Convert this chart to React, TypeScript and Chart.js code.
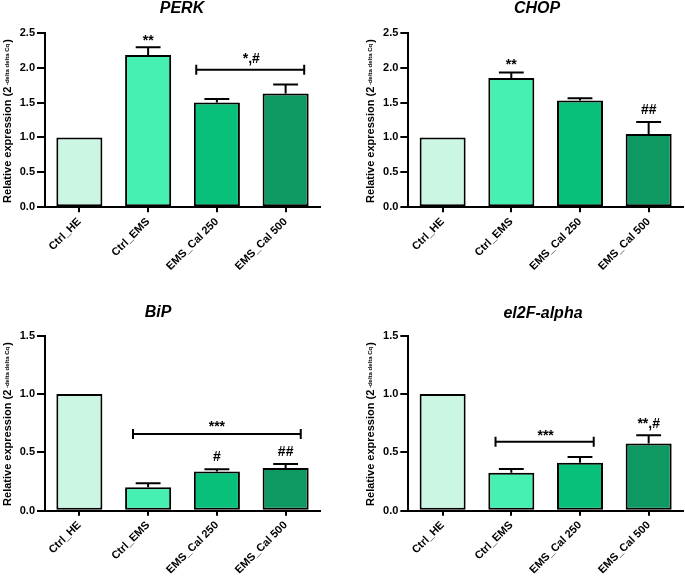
import React, { useEffect, useRef } from "react";
import { Chart, registerables } from "chart.js";

Chart.register(...registerables);

const FAMILY = "'Liberation Sans', Arial, Helvetica, sans-serif";

// ---------- data ----------
const categories = ["Ctrl_HE", "Ctrl_EMS", "EMS_Cal 250", "EMS_Cal 500"];
const barColors = ["#CBF6E4", "#45F0B0", "#09C07A", "#0F9962"];

const perkValues = [1.0, 2.18, 1.5, 1.63];
const perkErrors = [0, 0.11, 0.05, 0.13];

const chopValues = [1.0, 1.85, 1.53, 1.05];
const chopErrors = [0, 0.08, 0.03, 0.17];

const bipValues = [1.0, 0.2, 0.335, 0.365];
const bipErrors = [0, 0.035, 0.02, 0.035];

const eifValues = [1.0, 0.326, 0.412, 0.575];
const eifErrors = [0, 0.032, 0.048, 0.071];

const yTicksHigh = [0, 0.5, 1.0, 1.5, 2.0, 2.5];
const yTicksLow = [0, 0.5, 1.0, 1.5];

type Mark = { text: string; x: number; y: number };
type Bracket = { from: number; to: number; y: number };

const perkMarks: Mark[] = [
  { text: "**", x: 1, y: 2.33 },
  { text: "*,#", x: 2.5, y: 2.07 },
];
const perkBrackets: Bracket[] = [{ from: 1.7, to: 3.27, y: 1.97 }];

const chopMarks: Mark[] = [
  { text: "**", x: 1, y: 1.98 },
  { text: "##", x: 3, y: 1.33 },
];
const chopBrackets: Bracket[] = [];

const bipMarks: Mark[] = [
  { text: "***", x: 2, y: 0.686 },
  { text: "#", x: 2, y: 0.43 },
  { text: "##", x: 3, y: 0.47 },
];
const bipBrackets: Bracket[] = [{ from: 0.78, to: 3.22, y: 0.657 }];

const eifMarks: Mark[] = [
  { text: "***", x: 1.5, y: 0.61 },
  { text: "**,#", x: 3, y: 0.706 },
];
const eifBrackets: Bracket[] = [{ from: 0.77, to: 2.2, y: 0.59 }];

// ---------- layout ----------
interface PanelCfg {
  title: string;
  values: number[];
  errors: number[];
  yMax: number;
  yTicks: number[];
  marks: Mark[];
  brackets: Bracket[];
  box: { left: number; top: number; width: number; height: number };
  plot: { left: number; top: number; right: number; bottom: number };
  titlePos: { x: number; y: number };
  yTitle: { x: number; y: number };
}

const panels: PanelCfg[] = [
  {
    title: "PERK",
    values: perkValues,
    errors: perkErrors,
    yMax: 2.5,
    yTicks: yTicksHigh,
    marks: perkMarks,
    brackets: perkBrackets,
    box: { left: 0, top: 0, width: 340, height: 290 },
    plot: { left: 45, top: 32.7, right: 320, bottom: 207.3 },
    titlePos: { x: 182, y: 13 },
    yTitle: { x: 11, y: 121 },
  },
  {
    title: "CHOP",
    values: chopValues,
    errors: chopErrors,
    yMax: 2.5,
    yTicks: yTicksHigh,
    marks: chopMarks,
    brackets: chopBrackets,
    box: { left: 340, top: 0, width: 345, height: 290 },
    plot: { left: 68.3, top: 32.7, right: 343, bottom: 207.3 },
    titlePos: { x: 197, y: 13 },
    yTitle: { x: 34, y: 121 },
  },
  {
    title: "BiP",
    values: bipValues,
    errors: bipErrors,
    yMax: 1.5,
    yTicks: yTicksLow,
    marks: bipMarks,
    brackets: bipBrackets,
    box: { left: 0, top: 290, width: 340, height: 286 },
    plot: { left: 45, top: 45.7, right: 320, bottom: 220.7 },
    titlePos: { x: 158, y: 27 },
    yTitle: { x: 11, y: 134 },
  },
  {
    title: "el2F-alpha",
    values: eifValues,
    errors: eifErrors,
    yMax: 1.5,
    yTicks: yTicksLow,
    marks: eifMarks,
    brackets: eifBrackets,
    box: { left: 340, top: 290, width: 345, height: 286 },
    plot: { left: 68.3, top: 45.7, right: 343, bottom: 220.7 },
    titlePos: { x: 203, y: 27.5 },
    yTitle: { x: 34, y: 134 },
  },
];

function makeDecorPlugin(cfg: PanelCfg) {
  return {
    id: "panelDecor",
    afterDatasetsDraw(chart: any) {
      const ctx = chart.ctx as CanvasRenderingContext2D;
      const xs = chart.scales.x;
      const ys = chart.scales.y;
      const meta = chart.getDatasetMeta(0);
      ctx.save();
      ctx.strokeStyle = "#000";
      ctx.lineWidth = 2;
      ctx.lineCap = "butt";
      // error bars (upward SEM)
      cfg.values.forEach((v, i) => {
        const e = cfg.errors[i];
        if (!e) return;
        const x = xs.getPixelForValue(i);
        const y0 = ys.getPixelForValue(v);
        const y1 = ys.getPixelForValue(v + e);
        const half = (meta.data[i] as any).width * 0.27;
        ctx.beginPath();
        ctx.moveTo(x, y0);
        ctx.lineTo(x, y1);
        ctx.moveTo(x - half, y1);
        ctx.lineTo(x + half, y1);
        ctx.stroke();
      });
      // brackets
      cfg.brackets.forEach((b) => {
        const xa = xs.getPixelForValue(b.from);
        const xb = xs.getPixelForValue(b.to);
        const y = ys.getPixelForValue(b.y);
        ctx.beginPath();
        ctx.moveTo(xa, y);
        ctx.lineTo(xb, y);
        ctx.moveTo(xa, y - 5);
        ctx.lineTo(xa, y + 5);
        ctx.moveTo(xb, y - 5);
        ctx.lineTo(xb, y + 5);
        ctx.stroke();
      });
      // significance marks
      ctx.fillStyle = "#000";
      ctx.font = `bold 14px ${FAMILY}`;
      ctx.textAlign = "center";
      ctx.textBaseline = "alphabetic";
      cfg.marks.forEach((m) => {
        ctx.fillText(m.text, xs.getPixelForValue(m.x), ys.getPixelForValue(m.y));
      });
      ctx.restore();
    },
    afterDraw(chart: any) {
      const ctx = chart.ctx as CanvasRenderingContext2D;
      ctx.save();
      ctx.fillStyle = "#000";
      // panel title
      ctx.font = `italic bold 16px ${FAMILY}`;
      ctx.textAlign = "center";
      ctx.textBaseline = "alphabetic";
      ctx.fillText(cfg.title, cfg.titlePos.x, cfg.titlePos.y);
      // y-axis title with superscript
      const main = "Relative expression (2";
      const sup = " -delta delta Cq";
      const close = ")";
      const mainFont = `bold 11px ${FAMILY}`;
      const supFont = `bold 6px ${FAMILY}`;
      ctx.font = mainFont;
      const wm = ctx.measureText(main).width;
      const wc = ctx.measureText(close).width;
      ctx.font = supFont;
      const ws = ctx.measureText(sup).width + 1;
      const total = wm + ws + wc;
      ctx.translate(cfg.yTitle.x, cfg.yTitle.y);
      ctx.rotate(-Math.PI / 2);
      ctx.textAlign = "left";
      const start = -total / 2;
      ctx.font = mainFont;
      ctx.fillText(main, start, 0);
      ctx.font = supFont;
      ctx.fillText(sup, start + wm, -2.5);
      ctx.font = mainFont;
      ctx.fillText(close, start + wm + ws, 0);
      ctx.restore();
    },
  };
}

function Panel({ cfg }: { cfg: PanelCfg }) {
  const ref = useRef<HTMLCanvasElement>(null);
  useEffect(() => {
    const canvas = ref.current!;
    const { box, plot } = cfg;
    const tickFont = { family: FAMILY, size: 11, weight: "bold" as const };
    const chart = new Chart(canvas, {
      type: "bar",
      data: {
        labels: categories,
        datasets: [
          {
            data: cfg.values,
            backgroundColor: barColors,
            borderColor: "#000",
            borderWidth: 2,
            borderSkipped: false,
            barPercentage: 0.67,
            categoryPercentage: 1,
          },
        ],
      },
      options: {
        animation: false,
        responsive: false,
        maintainAspectRatio: false,
        devicePixelRatio: 1,
        layout: {
          padding: { left: 0, top: plot.top, right: box.width - plot.right, bottom: 0 },
        },
        plugins: {
          legend: { display: false },
          tooltip: { enabled: false },
          title: { display: false },
        },
        scales: {
          x: {
            type: "category",
            offset: true,
            grid: {
              display: true,
              offset: false,
              drawOnChartArea: false,
              drawTicks: true,
              tickLength: 5,
              color: "#000",
              lineWidth: 2,
            },
            border: { display: true, color: "#000", width: 2 },
            ticks: {
              color: "#000",
              font: tickFont,
              minRotation: 45,
              maxRotation: 45,
              autoSkip: false,
              padding: 3,
            },
            afterFit: (s: any) => {
              s.height = box.height - plot.bottom;
              s.paddingLeft = 0;
              s.paddingRight = 0;
            },
          },
          y: {
            type: "linear",
            min: 0,
            max: cfg.yMax,
            afterBuildTicks: (s: any) => {
              s.ticks = cfg.yTicks.map((v) => ({ value: v }));
            },
            grid: {
              display: true,
              drawOnChartArea: false,
              drawTicks: true,
              tickLength: 8,
              color: "#000",
              lineWidth: 2,
            },
            border: { display: true, color: "#000", width: 2 },
            ticks: {
              color: "#000",
              font: tickFont,
              padding: 2,
              callback: (v: any) => Number(v).toFixed(1),
            },
            afterFit: (s: any) => {
              s.width = plot.left;
              s.paddingTop = 0;
              s.paddingBottom = 0;
            },
          },
        },
      },
      plugins: [makeDecorPlugin(cfg)],
    } as any);
    return () => chart.destroy();
  }, [cfg]);
  return (
    <canvas
      ref={ref}
      width={cfg.box.width}
      height={cfg.box.height}
      style={{
        position: "absolute",
        left: cfg.box.left,
        top: cfg.box.top,
        width: cfg.box.width,
        height: cfg.box.height,
      }}
    />
  );
}

export default function App() {
  return (
    <div
      style={{
        position: "absolute",
        left: 0,
        top: 0,
        width: 685,
        height: 576,
        background: "#fff",
        overflow: "hidden",
      }}
    >
      {panels.map((p) => (
        <Panel key={p.title} cfg={p} />
      ))}
    </div>
  );
}
